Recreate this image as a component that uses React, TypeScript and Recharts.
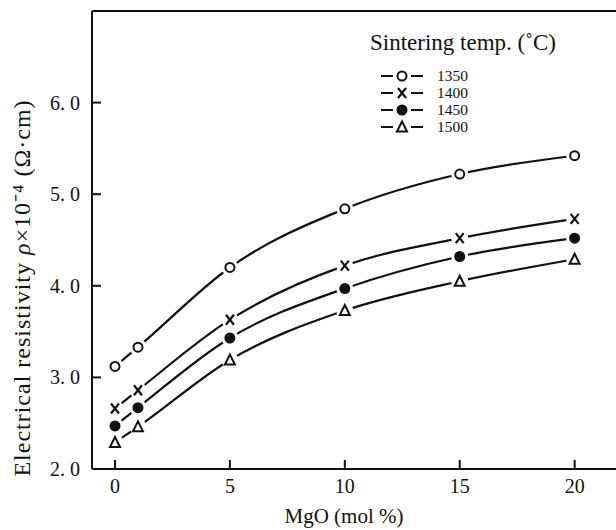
import React from 'react';
import { LineChart, Line, XAxis, YAxis, ReferenceLine } from 'recharts';

const mgo = [0, 1, 5, 10, 15, 20];
const rho1350 = [3.12, 3.33, 4.2, 4.84, 5.22, 5.42];
const rho1400 = [2.66, 2.86, 3.63, 4.22, 4.52, 4.73];
const rho1450 = [2.47, 2.67, 3.43, 3.97, 4.32, 4.52];
const rho1500 = [2.29, 2.46, 3.19, 3.73, 4.05, 4.29];

const xTicks = [0, 5, 10, 15, 20];
const yTicks = [2, 3, 4, 5, 6];

const seriesNames = ['1350', '1400', '1450', '1500'];
const seriesShapes = ['open', 'cross', 'filled', 'triangle'];
const legendTitle = 'Sintering temp. (˚C)';
const xTitle = 'MgO (mol %)';
const yTitleParts = ['Electrical resistivity ', 'ρ', '×10⁻⁴ (Ω·cm)'];

const data = mgo.map((x, i) => ({
  x,
  s1350: rho1350[i],
  s1400: rho1400[i],
  s1450: rho1450[i],
  s1500: rho1500[i],
}));

const FONT = '"Liberation Serif", "Times New Roman", serif';
const INK = '#111';

function Marker({ shape, cx, cy, halo = true }: { shape: string; cx: number; cy: number; halo?: boolean }) {
  let mark: React.ReactNode = null;
  if (shape === 'open') {
    mark = <circle cx={cx} cy={cy} r={4.5} fill="#fff" stroke={INK} strokeWidth={2} />;
  } else if (shape === 'cross') {
    mark = (
      <g stroke={INK} strokeWidth={2.2}>
        <line x1={cx - 4} y1={cy - 5} x2={cx + 4} y2={cy + 5} />
        <line x1={cx + 4} y1={cy - 5} x2={cx - 4} y2={cy + 5} />
      </g>
    );
  } else if (shape === 'filled') {
    mark = <circle cx={cx} cy={cy} r={5.5} fill={INK} />;
  } else {
    mark = (
      <polygon
        points={`${cx},${cy - 5.5} ${cx + 5},${cy + 4.5} ${cx - 5},${cy + 4.5}`}
        fill="#fff"
        stroke={INK}
        strokeWidth={2}
        strokeLinejoin="miter"
      />
    );
  }
  return (
    <g>
      {halo && <circle cx={cx} cy={cy} r={8.5} fill="#fff" />}
      {mark}
    </g>
  );
}

const makeDot = (shape: string) => (props: any) => {
  const { cx, cy, index } = props;
  if (cx == null || cy == null) return <g key={index} />;
  return <Marker key={index} shape={shape} cx={cx} cy={cy} />;
};

const Y_TICK_MARGIN = 12;
const X_TICK_MARGIN = 10;

const YTick = (props: any) => {
  const { x, y, payload } = props;
  const ax = x + Y_TICK_MARGIN;
  return (
    <g>
      <line x1={ax} y1={y} x2={ax + 9} y2={y} stroke={INK} strokeWidth={2} />
      <text x={x} y={y} dy="0.35em" textAnchor="end" fontFamily={FONT} fontSize={20} fill={INK}>
        {payload.value.toFixed(1).replace('.', '. ')}
      </text>
    </g>
  );
};

const XTick = (props: any) => {
  const { x, y, payload } = props;
  const ay = y - X_TICK_MARGIN;
  return (
    <g>
      <line x1={x} y1={ay} x2={x} y2={ay - 9} stroke={INK} strokeWidth={2} />
      <text x={x} y={y} dy="0.71em" textAnchor="middle" fontFamily={FONT} fontSize={20} fill={INK}>
        {payload.value}
      </text>
    </g>
  );
};

const LegendBox = () => (
  <svg width={240} height={110} style={{ position: 'absolute', left: 362, top: 28, display: 'block' }}>
    <text x={8} y={22} fontFamily={FONT} fontSize={23} fill={INK}>
      {legendTitle}
    </text>
    {seriesNames.map((name, i) => {
      const cy = 48 + i * 17;
      return (
        <g key={name}>
          <line x1={19} y1={cy} x2={31} y2={cy} stroke={INK} strokeWidth={2} />
          <line x1={49} y1={cy} x2={61} y2={cy} stroke={INK} strokeWidth={2} />
          <Marker shape={seriesShapes[i]} cx={40} cy={cy} halo={false} />
          <text x={75} y={cy} dy="0.35em" fontFamily={FONT} fontSize={15.5} fill={INK}>
            {name}
          </text>
        </g>
      );
    })}
  </svg>
);

export default function App() {
  return (
    <div style={{ position: 'fixed', left: 0, top: 0, width: 616, height: 530, background: '#fff', overflow: 'hidden' }}>
      <LineChart width={616} height={530} data={data} margin={{ top: 11, right: 0, bottom: 0, left: 0 }}>
        <XAxis
          dataKey="x"
          type="number"
          domain={[-1, 21.8]}
          ticks={xTicks}
          allowDataOverflow
          height={61}
          axisLine={{ stroke: INK, strokeWidth: 2 }}
          tickLine={false}
          tickSize={0}
          tickMargin={X_TICK_MARGIN}
          tick={<XTick />}
          label={{
            content: (p: any) => {
              const vb = p.viewBox;
              return (
                <text x={vb.x + vb.width / 2 - 10} y={vb.y + 54} textAnchor="middle" fontFamily={FONT} fontSize={21} fill={INK}>
                  {xTitle}
                </text>
              );
            },
          }}
        />
        <YAxis
          type="number"
          domain={[2, 7]}
          ticks={yTicks}
          width={92}
          axisLine={{ stroke: INK, strokeWidth: 2 }}
          tickLine={false}
          tickSize={0}
          tickMargin={Y_TICK_MARGIN}
          tick={<YTick />}
          label={{
            content: (p: any) => {
              const vb = p.viewBox;
              const cx = vb.x + 22;
              const cy = 288;
              return (
                <text
                  x={cx}
                  y={cy}
                  textAnchor="middle"
                  dominantBaseline="central"
                  transform={`rotate(-90 ${cx} ${cy})`}
                  fontFamily={FONT}
                  fontSize={24}
                  letterSpacing={1}
                  fill={INK}
                >
                  <tspan>{yTitleParts[0]}</tspan>
                  <tspan fontStyle="italic">{yTitleParts[1]}</tspan>
                  <tspan>{yTitleParts[2]}</tspan>
                </text>
              );
            },
          }}
        />
        <ReferenceLine y={7} stroke={INK} strokeWidth={2} ifOverflow="visible" />
        <Line dataKey="s1350" type="monotone" stroke={INK} strokeWidth={2.2} dot={makeDot('open')} isAnimationActive={false} />
        <Line dataKey="s1400" type="monotone" stroke={INK} strokeWidth={2.2} dot={makeDot('cross')} isAnimationActive={false} />
        <Line dataKey="s1450" type="monotone" stroke={INK} strokeWidth={2.2} dot={makeDot('filled')} isAnimationActive={false} />
        <Line dataKey="s1500" type="monotone" stroke={INK} strokeWidth={2.2} dot={makeDot('triangle')} isAnimationActive={false} />
      </LineChart>
      <LegendBox />
    </div>
  );
}
